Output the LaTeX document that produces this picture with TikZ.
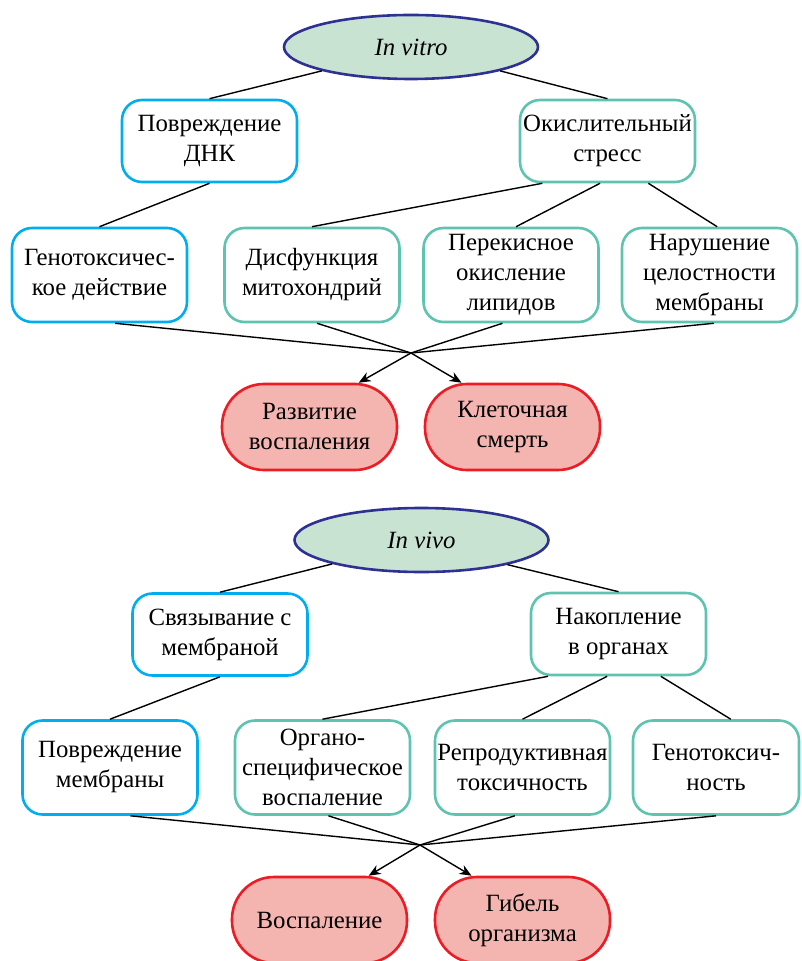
\documentclass[tikz,border=0pt]{standalone}
\usepackage{fontspec}
\setmainfont{Liberation Serif}
\usetikzlibrary{shapes.geometric, arrows.meta}
\definecolor{cbleu}{HTML}{00AEEF}
\definecolor{cvert}{HTML}{5EC4B0}
\definecolor{crouge}{HTML}{ED1C24}
\definecolor{crose}{HTML}{F4B4B0}
\definecolor{cfond}{HTML}{C9E3D3}
\definecolor{cbord}{HTML}{2E3192}

\begin{document}
\begin{tikzpicture}[x=0.5pt, y=-0.5pt]
			\tikzset{boite/.style={rectangle, rounded corners=10pt, line width=1.3pt, fill=white, align=center, inner xsep=1pt, inner ysep=2pt, minimum width=87.5pt, font=\fontsize{12.4}{15}\selectfont},
				bleue/.style={boite, draw=cbleu},
				verte/.style={boite, draw=cvert},
				issue/.style={boite, rounded corners=21pt, draw=crouge, fill=crose, minimum height=43pt},
				ovale/.style={ellipse, draw=cbord, fill=cfond, line width=1.3pt, inner sep=0pt, minimum width=127pt, minimum height=32pt, font=\fontsize{12.4}{15}\selectfont\itshape},
				trait/.style={line width=0.7pt},
				fleche/.style={line width=0.7pt, -{Stealth[length=6pt, width=5pt]}}};

			\useasboundingbox (0,0) rectangle (801,961);

			\node[ovale] (vitro) at (  411,   47) {In vitro};
			\node[bleue, minimum height=41pt] (dnk)    at (209.5,  141) {Повреждение\\ДНК};
			\node[verte, minimum height=41pt] (stress) at (607.5,  141) {Окислительный\\стресс};
			\node[bleue, minimum height=47pt] (geno)   at ( 99.5,  275) {Генотоксичес-\\кое действие};
			\node[verte, minimum height=47pt] (mito)   at (  312,  275) {Дисфункция\\митохондрий};
			\node[verte, minimum height=47pt] (lipid)  at (  511,  275) {Перекисное\\окисление\\липидов};
			\node[verte, minimum height=47pt] (membr)  at (709.5,  275) {Нарушение\\целостности\\мембраны};
			\node[issue] (infl) at (309.5,  427) {Развитие\\воспаления};
			\node[issue] (mort) at (512.5,  427) {Клеточная\\смерть};
			\coordinate (x1) at (411, 353);

			\node[ovale] (vivo) at (421.5,  540) {In vivo};
			\node[bleue, minimum height=41pt] (liaison) at (  220,  634.5) {Связывание с\\мембраной};
			\node[verte, minimum height=41pt] (accum)   at (618.5,  634) {Накопление\\в органах};
			\node[bleue, minimum height=47pt] (degat)   at (  110,  767.5) {Повреждение\\мембраны};
			\node[verte, minimum height=47pt] (organ)   at (322.5,  767.5) {Органо-\\специфическое\\воспаление};
			\node[verte, minimum height=47pt] (repro)   at (522.5,  767.5) {Репродуктивная\\токсичность};
			\node[verte, minimum height=47pt, minimum width=83pt] (geno2) at (716,  767.5) {Генотоксич-\\ность};
			\node[issue] (infl2) at (319.5,  920) {Воспаление};
			\node[issue] (mort2) at (522.5,  920) {Гибель\\организма};
			\coordinate (x2) at (420, 845);


			\draw[trait] (vitro.195) to (dnk.north);
			\draw[trait] (vitro.-15) to (stress.north);
			\draw[trait] (dnk.south) to (geno.north);
			\draw[trait] (stress.213) to (mito.north);
			\draw[trait] (stress.260) to (lipid.84);
			\draw[trait] (stress.-46) to (membr.81);
			\draw[trait] (geno.-72) to (x1);
			\draw[trait] (mito.-84) to (x1);
			\draw[trait] (lipid.260) to (x1);
			\draw[trait] (membr.275) to (x1);
			\draw[fleche] (x1) to (infl.42);
			\draw[fleche] (x1) to (mort.139);

			\draw[trait] (vivo.195) to (liaison.north);
			\draw[trait] (vivo.344) to (accum.north);
			\draw[trait] (liaison.south) to (degat.north);
			\draw[trait] (accum.211) to (organ.north);
			\draw[trait] (accum.255) to (repro.north);
			\draw[trait] (accum.-45) to (geno2.73);
			\draw[trait] (degat.-67) to (x2);
			\draw[trait] (organ.-83) to (x2);
			\draw[trait] (repro.-99) to (x2);
			\draw[trait] (geno2.south) to (x2);
			\draw[fleche] (x2) to (infl2.42);
			\draw[fleche] (x2) to (mort2.139);

		\end{tikzpicture}
\end{document}
